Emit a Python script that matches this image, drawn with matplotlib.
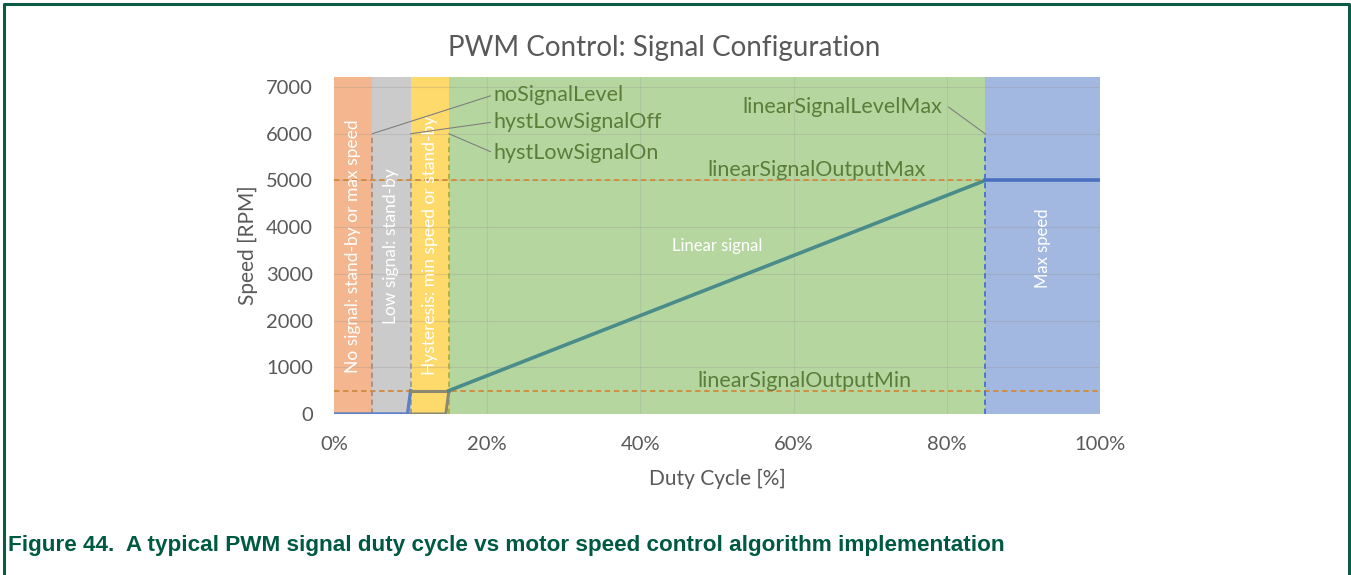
import matplotlib
matplotlib.use("Agg")
import matplotlib.pyplot as plt
from matplotlib import font_manager
from matplotlib.lines import Line2D

# fonts
installed = {f.name for f in font_manager.fontManager.ttflist}
plt.rcParams['font.family'] = ['Lato', 'DejaVu Sans']
cap_font = 'Liberation Sans Narrow' if 'Liberation Sans Narrow' in installed else 'Liberation Sans'

# zones along the duty-cycle axis (%)
zone_edges = [0, 5, 10, 15, 85, 100]
zone_colors = ['#f4b68e', '#cbcbcb', '#fed96c', '#b6d6a0', '#a3b8e0']
zone_labels = ['No signal: stand-by or max speed', 'Low signal: stand-by',
               'Hysteresis: min speed or stand-by', 'Linear signal', 'Max speed']

# speed curve pieces (duty %, rpm)
low_x = [0, 9.6, 10.0]
low_y = [0, 0, 500]
hyst_top_x = [10.0, 15.0]
hyst_top_y = [500, 500]
hyst_bot_x = [10.0, 14.6, 15.0]
hyst_bot_y = [0, 0, 500]
lin_x = [15, 85]
lin_y = [500, 5000]
max_x = [85, 100]
max_y = [5000, 5000]

# thresholds
level_marks = [5, 10, 15, 85]
level_height = 6000
output_min = 500
output_max = 5000

yticks = [0, 1000, 2000, 3000, 4000, 5000, 6000, 7000]
xticks = [0, 20, 40, 60, 80, 100]
xticklabels = ['0%', '20%', '40%', '60%', '80%', '100%']

W, H = 1351, 575
fig = plt.figure(figsize=(W / 100, H / 100), dpi=100)
ax = fig.add_axes([334 / W, 1 - 414 / H, 766 / W, 337 / H])
ax.set_xlim(0, 100)
ax.set_ylim(0, 7214)

# background zones
for i, c in enumerate(zone_colors):
    ax.axvspan(zone_edges[i], zone_edges[i + 1], color=c, lw=0, zorder=0)

# gridlines
for v in yticks[1:]:
    ax.axhline(v, color='#8c8c8c', lw=0.8, alpha=0.25, zorder=1)
for v in xticks[1:-1]:
    ax.axvline(v, color='#8c8c8c', lw=0.8, alpha=0.2, zorder=1)

# threshold dashed lines
ax.axhline(output_max, color='#d08a3c', lw=1.3, ls=(0, (3, 2)), zorder=2)
ax.axhline(output_min, color='#d08a3c', lw=1.3, ls=(0, (3, 2)), zorder=2)
mark_colors = ['#a69080', '#9a9a9a', '#a8b040', '#4472c4']
for m, c in zip(level_marks, mark_colors):
    ax.plot([m, m], [0, level_height], color=c, lw=1.3, ls=(0, (3, 2)), zorder=2)

# speed curve
ax.plot(low_x, low_y, color='#5b7fc8', lw=2.4, zorder=4)
ax.plot(hyst_top_x, hyst_top_y, color='#8a8a70', lw=2.2, zorder=4)
ax.plot(hyst_bot_x, hyst_bot_y, color='#8a8a70', lw=2.2, zorder=4)
ax.plot(lin_x, lin_y, color='#4a8c8a', lw=2.6, zorder=4)
ax.plot(max_x, max_y, color='#4a6fc0', lw=2.6, zorder=4)

# zone labels
for i, lab in enumerate(zone_labels[:3]):
    xc = (zone_edges[i] + zone_edges[i + 1]) / 2
    ax.text(xc, 3600, lab, rotation=90, ha='center', va='center',
            color='white', fontsize=12.5, zorder=5)
ax.text(50, 3600, zone_labels[3], ha='center', va='center', color='white', fontsize=12, zorder=5)
ax.text(92.5, 3550, zone_labels[4], rotation=90, ha='center', va='center',
        color='white', fontsize=12, zorder=5)

# annotations
ann_color = '#5a7d3a'
ann_size = 15.5
lead = dict(arrowstyle='-', color='#7f7f7f', lw=0.8, shrinkA=0, shrinkB=0)
ax.annotate('noSignalLevel', xy=(5, level_height), xytext=(20.8, 6830),
            ha='left', va='center', color=ann_color, fontsize=ann_size,
            arrowprops=dict(lead, relpos=(0, 0.5)), zorder=5)
ax.annotate('hystLowSignalOff', xy=(10, level_height), xytext=(20.8, 6250),
            ha='left', va='center', color=ann_color, fontsize=ann_size,
            arrowprops=dict(lead, relpos=(0, 0.5)), zorder=5)
ax.annotate('hystLowSignalOn', xy=(15, level_height), xytext=(20.8, 5590),
            ha='left', va='center', color=ann_color, fontsize=ann_size,
            arrowprops=dict(lead, relpos=(0, 0.5)), zorder=5)
ax.annotate('linearSignalLevelMax', xy=(85, level_height), xytext=(66.4, 6570),
            ha='center', va='center', color=ann_color, fontsize=ann_size,
            arrowprops=dict(lead, relpos=(1.03, 0.5)), zorder=5)
ax.text(63.0, 5225, 'linearSignalOutputMax', ha='center', va='center',
        color=ann_color, fontsize=ann_size, zorder=5)
ax.text(61.4, 707, 'linearSignalOutputMin', ha='center', va='center',
        color=ann_color, fontsize=ann_size, zorder=5)

# axes styling
for s in ax.spines.values():
    s.set_visible(False)
ax.set_yticks(yticks)
ax.set_xticks(xticks)
ax.set_xticklabels(xticklabels)
ax.tick_params(length=0, labelsize=14.5, labelcolor='#595959')
ax.tick_params(axis='y', pad=15)
ax.tick_params(axis='x', pad=16)
ax.set_ylabel('Speed [RPM]', fontsize=15, color='#595959')
ax.yaxis.set_label_coords(-0.112, 0.5)
ax.yaxis.label.set_va('center')
ax.set_xlabel('Duty Cycle [%]', fontsize=15, color='#595959')
ax.xaxis.set_label_coords(0.5, -0.193)
ax.xaxis.label.set_va('center')

fig.text(664 / W, 1 - 48 / H, 'PWM Control: Signal Configuration',
         ha='center', va='center', fontsize=20, color='#595959')

# caption and frame
fig.text(8 / W, 1 - 545 / H,
         'Figure 44.  A typical PWM signal duty cycle vs motor speed control algorithm implementation',
         ha='left', va='center', fontsize=16.2, fontweight='bold', color='#005a41',
         family=[cap_font, 'DejaVu Sans'])
frame = Line2D([4 / W, 4 / W, 1349 / W, 1349 / W], [0, 1 - 4 / H, 1 - 4 / H, 0],
               transform=fig.transFigure, color='#0d5a46', lw=2.2)
fig.add_artist(frame)

fig.savefig('out.png', dpi=100)
